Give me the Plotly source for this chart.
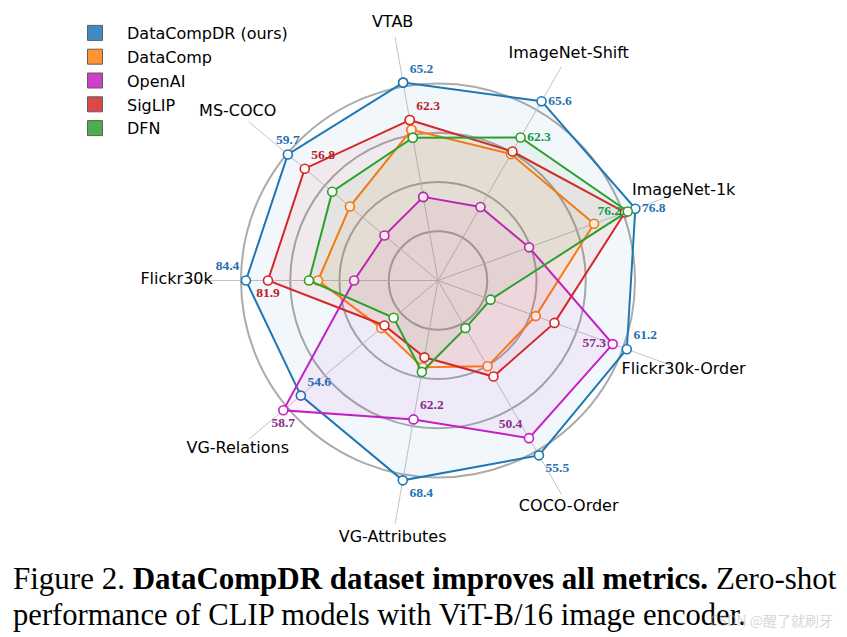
import plotly.graph_objects as go

# Axes (counter-clockwise, starting at VTAB)
categories = ["VTAB", "MS-COCO", "Flickr30k", "VG-Relations", "VG-Attributes",
              "COCO-Order", "Flickr30k-Order", "ImageNet-1k", "ImageNet-Shift"]

# Normalised per-axis scores (1.0 = outer ring)
datacompdr = [1.020, 0.995, 0.975, 0.909, 1.030, 1.025, 1.020, 1.066, 1.051]
datacomp   = [0.777, 0.584, 0.609, 0.376, 0.447, 0.503, 0.528, 0.843, 0.741]
openai     = [0.431, 0.355, 0.426, 1.025, 0.716, 0.924, 0.944, 0.492, 0.431]
siglip     = [0.827, 0.883, 0.863, 0.355, 0.396, 0.563, 0.629, 1.010, 0.756]
dfn        = [0.736, 0.701, 0.655, 0.294, 0.472, 0.279, 0.284, 1.025, 0.838]

# Printed values
datacompdr_labels = ["65.2", "59.7", "84.4", "54.6", "68.4", "55.5", "61.2", "76.8", "65.6"]
datacomp_labels   = ["", "", "", "", "", "", "", "", ""]
openai_labels     = ["", "", "", "58.7", "62.2", "50.4", "57.3", "", ""]
siglip_labels     = ["62.3", "56.8", "81.9", "", "", "", "", "", ""]
dfn_labels        = ["", "", "", "", "", "", "", "76.2", "62.3"]

ring_values = [0.25, 0.5, 0.75, 1.0]
SPOKE_LEN = 1.254
LABEL_R = 1.327
R_MAX = 1.40

series = [
    ("DataCompDR (ours)", datacompdr, datacompdr_labels, "#1f77b4", "#1f6fb4", "rgba(31,119,180,0.06)",
     ["top right", "top center", "top left", "top right", "bottom right", "bottom right", "top right", "middle right", "middle right"]),
    ("DataComp", datacomp, datacomp_labels, "#ff7f0e", "#d96a00", "rgba(255,127,14,0.07)",
     ["middle center"] * 9),
    ("OpenAI", openai, openai_labels, "#c41fc4", "#8b2b8b", "rgba(196,31,196,0.06)",
     ["top right", "top right", "top right", "bottom center", "top right", "top left", "middle left", "top right", "top right"]),
    ("SigLIP", siglip, siglip_labels, "#d62728", "#b81d2a", "rgba(214,39,40,0.06)",
     ["top right", "top right", "bottom center", "top right", "top right", "top right", "top right", "top right", "top right"]),
    ("DFN", dfn, dfn_labels, "#2ca02c", "#17984a", "rgba(44,160,44,0.06)",
     ["top right"] * 7 + ["middle left", "middle right"]),
]

fig = go.Figure()

# spokes
spoke_r, spoke_t = [], []
for c in categories:
    spoke_r += [0, SPOKE_LEN, None]
    spoke_t += [c, c, None]
fig.add_trace(go.Scatterpolar(r=spoke_r, theta=spoke_t, mode="lines",
                              line=dict(color="#c4c4c4", width=1), showlegend=False,
                              hoverinfo="skip", cliponaxis=False))

for name, vals, labels, col, tcol, fcol, tpos in series:
    fig.add_trace(go.Scatterpolar(
        r=vals + vals[:1], theta=categories + categories[:1],
        mode="lines+markers+text", fill="toself", fillcolor=fcol,
        line=dict(color=col, width=2),
        marker=dict(symbol="circle", size=9, color="white", line=dict(color=col, width=1.6)),
        text=labels + [""], textposition=tpos + ["middle center"],
        textfont=dict(family="Liberation Serif", size=13.5, color=tcol, weight="bold"),
        cliponaxis=False, showlegend=False, name=name,
    ))

# legend swatches
for name, vals, labels, col, tcol, fcol, tpos in series:
    fig.add_trace(go.Scatterpolar(
        r=[None], theta=[None], mode="markers", name=name,
        marker=dict(symbol="square", size=15, color=col, opacity=0.85,
                    line=dict(color="#444444", width=1)),
        showlegend=True,
    ))

# axis names
fig.add_trace(go.Scatterpolar(
    r=[LABEL_R] * len(categories), theta=categories, mode="text", text=categories,
    textposition="middle center", cliponaxis=False, showlegend=False,
    textfont=dict(family="DejaVu Sans", size=16, color="black"), hoverinfo="skip",
))

W, H = 847, 637
cx, cy = 438, 280.5
R = R_MAX * 197
fig.update_layout(
    width=W, height=H, margin=dict(l=0, r=0, t=0, b=0),
    paper_bgcolor="white", plot_bgcolor="white",
    font=dict(family="DejaVu Sans", size=16, color="black"),
    polar=dict(
        domain=dict(x=[(cx - R) / W, (cx + R) / W], y=[1 - (cy + R) / H, 1 - (cy - R) / H]),
        bgcolor="rgba(0,0,0,0)",
        radialaxis=dict(range=[0, R_MAX], tickvals=ring_values, showticklabels=False,
                        ticks="", showline=False, gridcolor="#ababab", gridwidth=1.6),
        angularaxis=dict(type="category", categoryorder="array", categoryarray=categories,
                         rotation=100, direction="counterclockwise", showticklabels=False,
                         ticks="", showline=False, showgrid=False),
    ),
    legend=dict(x=63 / W, y=1 - 16 / H, xanchor="left", yanchor="top",
                bgcolor="rgba(0,0,0,0)", itemwidth=54,
                font=dict(family="DejaVu Sans", size=16, color="black")),
    annotations=[
        dict(text="Figure 2. <b>DataCompDR dataset improves all metrics.</b> Zero-shot",
             x=11 / W, y=1 - 578 / H, xref="paper", yref="paper", xanchor="left", yanchor="middle",
             showarrow=False, font=dict(family="Liberation Serif", size=31, color="black")),
        dict(text="performance of CLIP models with ViT-B/16 image encoder.",
             x=11 / W, y=1 - 615 / H, xref="paper", yref="paper", xanchor="left", yanchor="middle",
             showarrow=False, font=dict(family="Liberation Serif", size=30.6, color="black")),
        dict(text="CSDN @醒了就刷牙",
             x=835 / W, y=1 - 620 / H, xref="paper", yref="paper", xanchor="right", yanchor="middle",
             showarrow=False, opacity=0.55,
             font=dict(family="Noto Sans CJK SC", size=14, color="#b8b8b8")),
    ],
)

fig.write_html("out.html", config={"displayModeBar": False},
               post_script="document.body.style.margin='0px';")
